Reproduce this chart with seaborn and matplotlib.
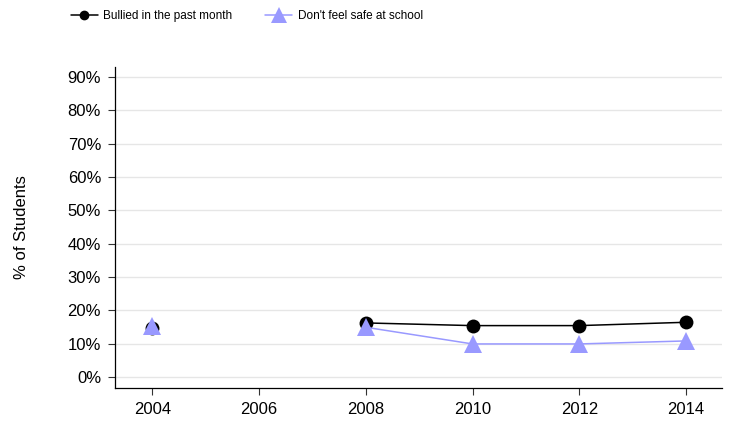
import numpy as np
import pandas as pd
import seaborn as sns
import matplotlib.pyplot as plt

years = [2004, 2006, 2008, 2010, 2012, 2014]
bullied = [14.8, np.nan, 16.2, 15.4, 15.4, 16.4]
unsafe = [15.3, np.nan, 14.9, 9.9, 9.9, 10.8]
series_names = ["Bullied in the past month", "Don't feel safe at school"]
y_ticks = list(range(0, 100, 10))

# long form, with a segment id so the 2006 gap breaks the line
rows = []
for name, vals in zip(series_names, [bullied, unsafe]):
    seg = 0
    for yr, v in zip(years, vals):
        if np.isnan(v):
            seg += 1
            continue
        rows.append({"Year": yr, "Value": v, "Series": name, "Segment": f"{name}-{seg}"})
df = pd.DataFrame(rows)

sns.set_style("white")
plt.rcParams["text.color"] = "black"
plt.rcParams["axes.labelcolor"] = "black"
plt.rcParams["xtick.color"] = "#333333"
plt.rcParams["ytick.color"] = "#333333"
plt.rcParams["xtick.labelcolor"] = "black"
plt.rcParams["ytick.labelcolor"] = "black"

fig = plt.figure(figsize=(7.32, 4.32), dpi=100)
ax = fig.add_axes([0.157, 0.102, 0.829, 0.743])

palette = {series_names[0]: "black", series_names[1]: "#9999ff"}
markers = {series_names[0]: "o", series_names[1]: "^"}
for name in series_names:
    sub = df[df["Series"] == name]
    sns.lineplot(data=sub, x="Year", y="Value", units="Segment", estimator=None,
                 color=palette[name], marker=markers[name],
                 markersize=10 if name == series_names[0] else 13,
                 markeredgewidth=0, linewidth=1.1, ax=ax, legend=False)

ax.set_xlim(2003.3, 2014.67)
ax.set_ylim(-3.3, 93)
ax.set_xticks(years)
ax.set_xticklabels([str(y) for y in years], fontsize=12, family="Liberation Sans")
ax.set_yticks(y_ticks)
ax.set_yticklabels([f"{t}%" for t in y_ticks], fontsize=12, family="Liberation Sans")
ax.yaxis.grid(True, color="#e6e6e6", linewidth=1)
ax.set_axisbelow(True)
ax.tick_params(axis="both", length=5, width=0.8, direction="out", pad=5,
               left=True, bottom=True)
for s in ["top", "right"]:
    ax.spines[s].set_visible(False)
for s in ["left", "bottom"]:
    ax.spines[s].set_color("black")
    ax.spines[s].set_linewidth(0.9)
ax.set_xlabel("")
ax.set_ylabel("% of Students", fontsize=12, family="Liberation Sans")
ax.yaxis.set_label_coords(-0.142, 0.5)

handles = [
    plt.Line2D([], [], color="black", marker="o", markersize=6, linewidth=1.1),
    plt.Line2D([], [], color="#9999ff", marker="^", markersize=11, markeredgewidth=0, linewidth=1.1),
]
fig.legend(handles, series_names, loc="center", bbox_to_anchor=(0.337, 0.962), ncol=2,
           frameon=False, handlelength=2.3, columnspacing=2.8, handletextpad=0.45,
           prop={"family": "Liberation Sans", "size": 8.5})

fig.savefig("out.png", dpi=100)
